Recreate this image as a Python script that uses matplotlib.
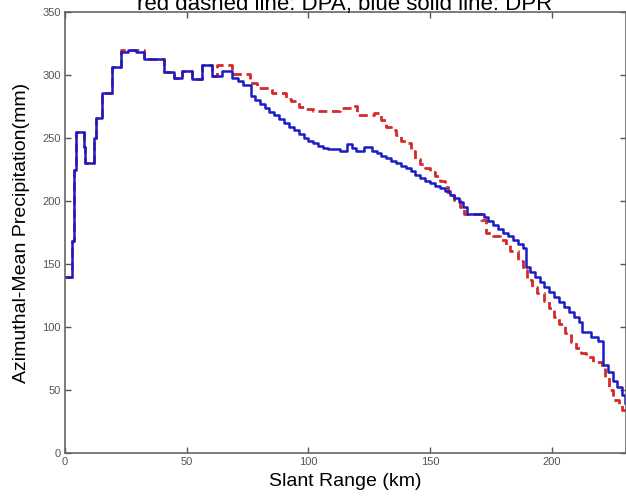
import matplotlib
matplotlib.use('Agg')
import matplotlib.pyplot as plt

# blue solid line (step breakpoints: range km, precipitation mm)
blue_x = [0, 3, 3.5, 4.4, 7.8, 8.3, 12, 12.6, 15.3, 19.4, 22.9, 26, 29, 32.5, 40.7, 44.9, 48, 52, 56.4,
          60.5, 64.6, 68.7, 71, 73, 76.4, 78, 80, 82, 84, 86, 88, 90, 92, 94, 96, 98, 100, 102, 104, 106,
          108, 113, 116, 118, 119.5, 123, 126, 128, 130, 132, 134, 136, 138, 140, 142, 144, 146, 148, 150,
          152, 154, 156, 158, 160, 162, 163.5, 165, 172, 174, 176, 178, 180, 182, 184, 186, 188, 189.5,
          191, 193, 195, 197, 199, 201, 203, 205, 207, 209, 211, 212.5, 216, 219, 221, 223, 225, 227,
          229, 230]
blue_y = [140, 168, 225, 255, 243, 230, 250, 266, 286, 306.5, 318, 320, 318, 313, 302, 298, 303, 297, 308,
          299, 303, 298, 295, 292, 283, 280, 277, 274, 271, 268, 265, 262, 259, 256, 253, 250, 248, 246, 244, 242,
          241, 240, 245, 242, 240, 243, 240, 238, 236, 234, 232, 230, 228, 226, 224, 221, 218, 216, 214,
          212, 210, 208, 205, 202, 199, 195, 190, 187, 184, 181, 178, 175, 172, 169, 166, 163, 148,
          144, 140, 136, 132, 128, 124, 120, 116, 112, 108, 104, 96, 92, 89, 70, 64, 57, 52,
          46, 40]

# red dashed line
red_x = [0, 3, 3.5, 4.4, 7.8, 8.3, 12, 12.6, 15.3, 19.4, 22.9, 32.5, 40.7, 44.9, 48, 52, 56.4, 60.5, 62.5,
         68.5, 76, 79, 81, 85, 91, 93, 96, 99, 102, 113, 118.5, 120, 127, 130, 132, 134, 136, 138, 140,
         142, 144, 146, 148, 150, 152, 154, 156, 157.5, 160, 162.5, 164, 171, 173, 176, 178.6, 181, 183,
         186, 188, 190, 192, 194, 197, 199, 201, 203, 205.6, 208, 210, 212, 214, 217, 220.7, 222, 223.5,
         225, 227.5, 229, 230]
red_y = [140, 168, 225, 255, 243, 230, 250, 266, 286, 306.5, 320, 313, 302, 298, 303, 297, 308, 299, 308,
         301, 294, 290, 289.7, 285.7, 281, 279, 275, 273, 271.4, 273.8, 275.5, 268, 269.5, 264, 259, 256, 252, 248, 246,
         240, 233, 229, 226, 223, 220, 216, 211, 205, 201, 195, 190, 185, 175, 172, 169, 165, 160,
         152, 145, 137, 132, 127, 121, 115, 108, 102, 95, 88, 83, 79, 76.5, 72, 68.5, 60, 50,
         42, 38, 34, 33]

x_ticks = [0, 50, 100, 150, 200]
y_ticks = [0, 50, 100, 150, 200, 250, 300, 350]

plt.rcParams['font.family'] = ['Liberation Sans', 'DejaVu Sans']

fig = plt.figure(figsize=(6.26, 4.99), dpi=100)
ax = fig.add_axes([65 / 626, 46 / 499, 561 / 626, 441 / 499])

ax.plot(red_x, red_y, color='#d42a2a', lw=2.0, ls=(0, (3.2, 1.7)), drawstyle='steps-post')
ax.plot(blue_x, blue_y, color='#1c1cc4', lw=1.8, drawstyle='steps-post')

ax.set_xlim(0, 230.5)
ax.set_ylim(0, 350)
ax.set_xticks(x_ticks)
ax.set_yticks(y_ticks)
ax.tick_params(direction='in', length=4, width=1, colors='#555555', labelsize=8,
               top=True, right=True, pad=3)
for s in ax.spines.values():
    s.set_color('#666666')
    s.set_linewidth(1.2)

ax.set_xlabel('Slant Range (km)', fontsize=14, labelpad=4)
ax.set_ylabel('Azimuthal-Mean Precipitation(mm)', fontsize=14, labelpad=9)
fig.text(0.55, 1 - 10 / 499, 'red dashed line: DPA, blue solid line: DPR', fontsize=16,
         ha='center', va='baseline')

fig.savefig('out.png', dpi=100)
